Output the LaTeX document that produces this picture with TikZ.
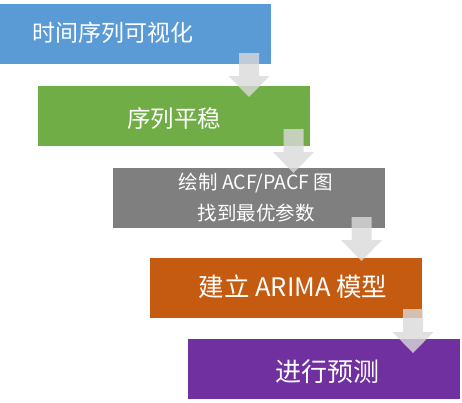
\documentclass[tikz,border=0pt]{standalone}
\usepackage{fontspec}
\setmainfont{Noto Sans CJK SC}
\usetikzlibrary{positioning}
\definecolor{stepblue}{HTML}{5B9BD5}
\definecolor{stepgreen}{HTML}{70AD47}
\definecolor{stepgray}{HTML}{7F7F7F}
\definecolor{steporange}{HTML}{C55A11}
\definecolor{steppurple}{HTML}{7030A0}
\definecolor{arrowgray}{HTML}{D9D9D9}

\begin{document}
\begin{tikzpicture}[x=1pt,y=-1pt,
		box/.style={rectangle, minimum width=272pt, minimum height=60pt, inner sep=0pt},
		boxtext/.style={text=white, align=center, inner sep=0pt},
		flowarrow/.style={fill=arrowgray, opacity=0.8},
		downblock/.pic={\fill[flowarrow] (-10,0) -- (10,0) -- (10,23) -- (20.5,23) -- (0,44) -- (-20.5,23) -- (-10,23) -- cycle;}]
		\useasboundingbox (0,0) rectangle (462,402);
		% boxes
		\node[box, fill=stepblue] (b1) at (135,34) {};
		\node[box, fill=stepgreen] (b2) at (173.5,116) {};
		\node[box, fill=stepgray] (b3) at (249,198) {};
		\node[box, fill=steporange] (b4) at (286,288) {};
		\node[box, fill=steppurple] (b5) at (324,369) {};
		% texts
		\node[boxtext, font=\fontsize{23}{28}\selectfont] (t1) at (113,33) {时间序列可视化};
		\node[boxtext, font=\fontsize{23.5}{28}\selectfont] (t2) at (174,119) {序列平稳};
		\node[boxtext, font=\fontsize{19.5}{31}\selectfont] (t3) at (256,197.5) {绘制 ACF/PACF 图\\找到最优参数};
		\node[boxtext, font=\fontsize{25.5}{30}\selectfont] (t4) at (293,287) {建立 ARIMA 模型};
		\node[boxtext, font=\fontsize{26}{30}\selectfont] (t5) at (327,372) {进行预测};
		% arrows
		\pic (a1) at (249,53) {downblock};
		\pic (a2) at (293.5,129) {downblock};
		\pic (a3) at (361.5,217) {downblock};
		\pic (a4) at (413,309) {downblock};
\end{tikzpicture}
\end{document}
